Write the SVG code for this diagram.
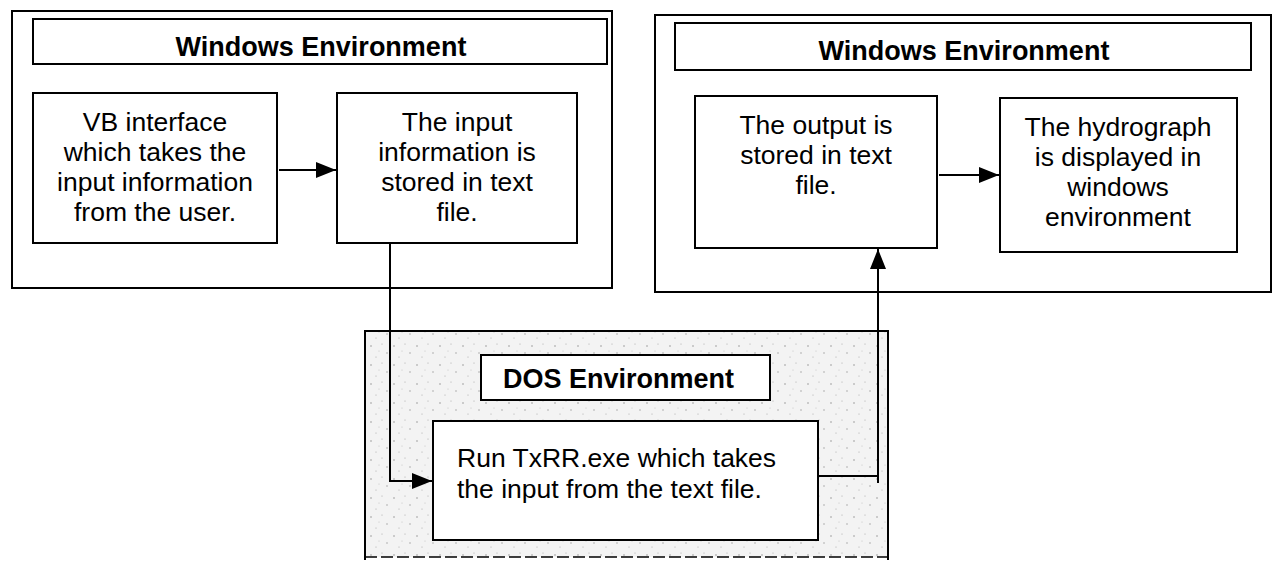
<svg xmlns="http://www.w3.org/2000/svg" width="1273" height="563" viewBox="0 0 1273 563">
<style>
.box{fill:#ffffff;stroke:#000;stroke-width:2}
.frame{fill:none;stroke:#000;stroke-width:2}
.t{font-family:"Liberation Sans",Arial,Helvetica,sans-serif;font-size:26.5px;fill:#000;text-anchor:middle}
.b{font-family:"Liberation Sans",Arial,Helvetica,sans-serif;font-size:27px;font-weight:bold;fill:#000;text-anchor:middle}
.l{text-anchor:start}
.c{fill:none;stroke:#000;stroke-width:2}
</style>
<defs>
<marker id="ah2" viewBox="0 0 20 16" refX="20" refY="8" markerWidth="20" markerHeight="16" markerUnits="userSpaceOnUse" orient="auto">
<path d="M0,0 L20,8 L0,16 z" fill="#000"/>
</marker>
<pattern id="speck" width="23" height="19" patternUnits="userSpaceOnUse">
<rect width="23" height="19" fill="#f3f3f3"/>
<circle cx="3" cy="4" r="0.8" fill="#999"/>
<circle cx="14" cy="2" r="0.6" fill="#aaa"/>
<circle cx="19" cy="11" r="0.7" fill="#999"/>
<circle cx="8" cy="15" r="0.6" fill="#aaa"/>
<circle cx="11" cy="9" r="0.5" fill="#bbb"/>
</pattern>
</defs>
<rect width="1273" height="563" fill="#ffffff"/>

<g id="win-left">
<rect class="frame" x="12" y="11" width="600" height="277"/>
<g id="win-left-title">
<rect class="box" x="33" y="19" width="574" height="45"/>
<text class="b" x="321" y="56">Windows Environment</text>
</g>
</g>

<g id="win-right">
<rect class="frame" x="655" y="15" width="616" height="277"/>
<g id="win-right-title">
<rect class="box" x="675" y="23" width="576" height="47"/>
<text class="b" x="964" y="60">Windows Environment</text>
</g>
</g>

<g id="dos">
<rect x="365" y="331" width="523" height="226" fill="url(#speck)"/>
<path class="frame" d="M365,560 L365,331 L888,331 L888,560"/>
<line x1="365" y1="557" x2="888" y2="557" stroke="#000" stroke-width="1.5" stroke-dasharray="12,4"/>
<g id="dos-title">
<rect class="box" x="481" y="355" width="289" height="45"/>
<text class="b l" x="503" y="388">DOS Environment</text>
</g>
</g>

<g id="vb">
<rect class="box" x="33" y="93" width="244" height="150"/>
<text class="t" x="155" y="131">VB interface</text>
<text class="t" x="155" y="161">which takes the</text>
<text class="t" x="155" y="191">input information</text>
<text class="t" x="155" y="221">from the user.</text>
</g>

<g id="input-file">
<rect class="box" x="337" y="93" width="240" height="150"/>
<text class="t" x="457" y="131">The input</text>
<text class="t" x="457" y="161">information is</text>
<text class="t" x="457" y="191">stored in text</text>
<text class="t" x="457" y="221">file.</text>
</g>

<g id="output-file">
<rect class="box" x="695" y="96" width="242" height="152"/>
<text class="t" x="816" y="134">The output is</text>
<text class="t" x="816" y="164">stored in text</text>
<text class="t" x="816" y="194">file.</text>
</g>

<g id="hydrograph">
<rect class="box" x="1000" y="98" width="237" height="154"/>
<text class="t" x="1118" y="136">The hydrograph</text>
<text class="t" x="1118" y="166">is displayed in</text>
<text class="t" x="1118" y="196">windows</text>
<text class="t" x="1118" y="226">environment</text>
</g>

<g id="txrr">
<rect class="box" x="433" y="421" width="385" height="119"/>
<text class="t l" x="457" y="467">Run TxRR.exe which takes</text>
<text class="t l" x="457" y="498">the input from the text file.</text>
</g>

<g id="connectors">
<path class="c" d="M279,170 L336,170" marker-end="url(#ah2)"/>
<path class="c" d="M939,175 L999,175" marker-end="url(#ah2)"/>
<path class="c" d="M390,243 L390,481 L432,481" marker-end="url(#ah2)"/>
<path class="c" d="M818,476 L878,476"/>
<path class="c" d="M878,483 L878,249" marker-end="url(#ah2)"/>
</g>
</svg>
